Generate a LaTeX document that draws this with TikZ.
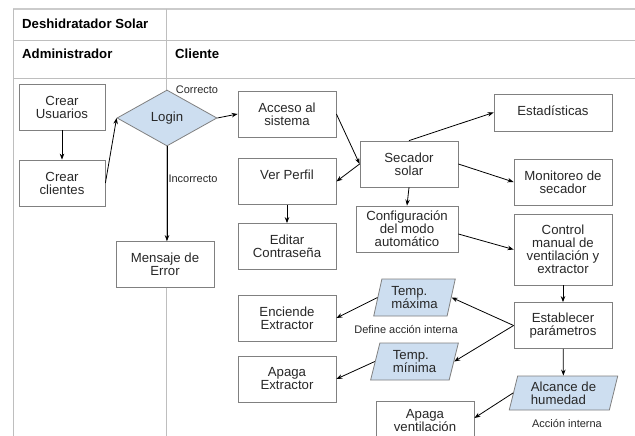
\documentclass[tikz,border=0pt]{standalone}
\usepackage{fontspec}
\setmainfont{Liberation Sans}
\usetikzlibrary{arrows.meta,shapes.geometric}
\definecolor{boxgray}{RGB}{128,128,128}
\definecolor{lanegray}{RGB}{190,190,190}
\definecolor{lblue}{RGB}{205,222,240}
\definecolor{txt}{RGB}{40,40,40}
\newcommand{\boxfont}{\fontsize{13.2pt}{13pt}\selectfont}
\newcommand{\lblfont}{\fontsize{11pt}{12pt}\selectfont}
\newcommand{\hdrfont}{\fontsize{13.2pt}{14pt}\selectfont\bfseries}
\tikzset{
  box/.style={draw=boxgray, line width=0.8pt, fill=white, text=txt, align=center,
    minimum width=98pt, minimum height=46pt, inner sep=1pt, font=\boxfont},
  dec/.style={diamond, draw=boxgray, line width=0.8pt, fill=lblue, text=txt,
    minimum width=100pt, minimum height=56pt, inner sep=0pt, font=\boxfont},
  para/.style={trapezium, trapezium left angle=76, trapezium right angle=104,
    trapezium stretches=true, draw=boxgray, line width=0.8pt, fill=lblue, text=txt,
    align=left, inner sep=1pt, font=\boxfont},
  arr/.style={-{Stealth[length=6pt,width=4.5pt]}, black, line width=0.8pt},
  lane/.style={draw=lanegray, line width=0.8pt},
  hdr/.style={anchor=west, font=\hdrfont, text=black, inner sep=0pt},
  lbl/.style={font=\lblfont, text=txt, inner sep=0pt},
}
\begin{document}
\begin{tikzpicture}[x=1pt,y=-1pt]
\useasboundingbox (0,0) rectangle (635,436);
\clip (0,0) rectangle (635,436);
\fill[white] (0,0) rectangle (635,436);
% lanes
\draw[lane, line width=1.6pt, draw=lanegray!80] (13,9) -- (635,9);
\draw[lane] (13,40) -- (635,40);
\draw[lane] (13,78) -- (635,78);
\draw[lane] (13,9) -- (13,436);
\draw[lane] (166,9) -- (166,436);
\node[hdr] (h1) at (22,23.5) {Deshidratador Solar};
\node[hdr] (h2) at (22,54) {Administrador};
\node[hdr] (h3) at (175,54) {Cliente};
% nodes
\node[box, minimum width=86pt] (cu) at (62,107) {Crear\\Usuarios};
\node[box, minimum width=86pt] (cc) at (62,183) {Crear\\clientes};
\node[dec] (login) at (167,118) {Login};
\node[box] (acc) at (287,114) {Acceso al\\sistema};
\node[box] (vp) at (287,181.5) {Ver Perfil\\\mbox{}};
\node[box] (ed) at (287,246.5) {Editar\\Contraseña};
\node[box] (err) at (165,264.5) {Mensaje de\\Error};
\node[box] (sec) at (409,164) {Secador\\solar};
\node[box, minimum width=118pt, minimum height=37pt] (est) at (553,112.5) {\raisebox{4pt}{Estadísticas}};
\node[box] (mon) at (563,182) {Monitoreo de\\secador};
\node[box, minimum width=102pt] (conf) at (407,229) {Configuración\\del modo\\automático};
\node[box, minimum height=71pt] (ctrl) at (563,249.5) {Control\\manual de\\ventilación y\\extractor};
\node[box] (est2) at (563,325.5) {Establecer\\parámetros};
\node[para, minimum width=82pt, minimum height=37pt] (tmax) at (414.5,297.5) {Temp.\\máxima};
\node[para, minimum width=88pt, minimum height=37pt] (tmin) at (414.5,361.5) {Temp.\\mínima};
\node[para, minimum width=109pt, minimum height=34pt] (alc) at (563.5,393) {Alcance de\\humedad};
\node[box] (enc) at (287,318) {Enciende\\Extractor};
\node[box] (apx) at (287,379) {Apaga\\Extractor};
\node[box, minimum height=40pt] (apv) at (425,421) {Apaga\\ventilación};
% labels
\node[lbl] (lc) at (197,90) {Correcto};
\node[lbl] (li) at (193,179) {Incorrecto};
\node[lbl] (ld) at (406,330) {Define acción interna};
\node[lbl] (la) at (567,424) {Acción interna};
% connectors
\draw[arr] (cu) -- (cc);
\draw[arr] (cc.east) -- (login.west);
\draw[arr] (login.east) -- (acc.west);
\draw[arr] (login.south) -- (login.south |- err.north);
\draw[arr] (acc.east) -- (sec.west);
\draw[arr] (sec.west) -- (vp.east);
\draw[arr] (sec.north) -- (est.west);
\draw[arr] (sec.east) -- (mon.west);
\draw[arr] (sec.south) -- (conf.north);
\draw[arr] (vp) -- (ed);
\draw[arr] ([yshift=-5pt]conf.east) -- (ctrl.west);
\draw[arr] (ctrl) -- (est2);
\draw[arr] (est2.west) -- (tmax.east);
\draw[arr] (est2.west) -- (tmin.east);
\draw[arr] (tmax.west) -- (enc.east);
\draw[arr] (tmin.west) -- (apx.east);
\draw[arr] (est2) -- (alc);
\draw[arr] (alc.west) -- ([yshift=3pt]apv.east);
\end{tikzpicture}
\end{document}
